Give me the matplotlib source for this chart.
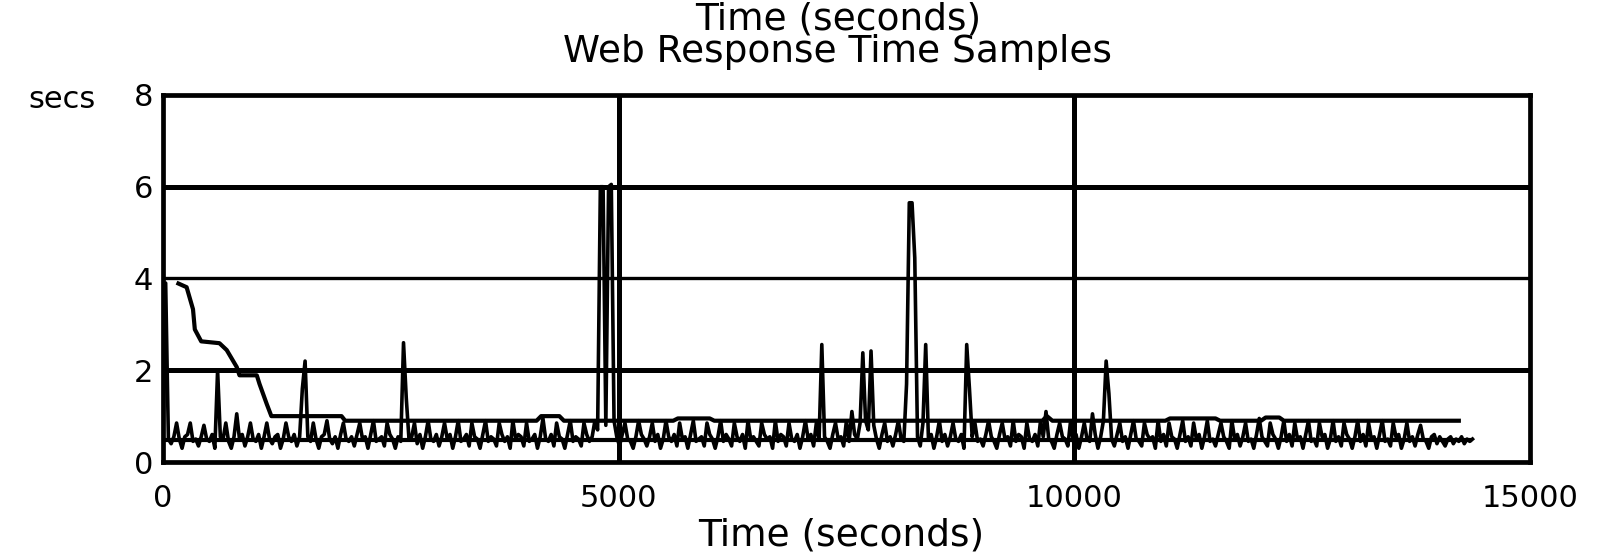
import numpy as np
import matplotlib
matplotlib.use("Agg")
import matplotlib.pyplot as plt

# raw response-time samples, one every 30 s
sample_step = 30
raw_secs = [
    0.45, 3.9, 0.5, 0.4, 0.55, 0.85, 0.5, 0.3, 0.55, 0.6, 0.85, 0.45, 0.5, 0.35, 0.55, 0.8, 0.5, 0.45, 0.6, 0.3, 2.0, 0.55, 0.5, 0.85,
    0.45, 0.3, 0.55, 1.05, 0.5, 0.6, 0.35, 0.55, 0.85, 0.5, 0.45, 0.6, 0.3, 0.55, 0.85, 0.5, 0.4, 0.55, 0.6, 0.3, 0.5, 0.85, 0.55, 0.45,
    0.6, 0.35, 0.55, 1.6, 2.2, 0.55, 0.45, 0.85, 0.5, 0.3, 0.55, 0.6, 0.9, 0.5, 0.4, 0.55, 0.3, 0.6, 0.85, 0.5, 0.45, 0.55, 0.35, 0.6,
    0.85, 0.5, 0.55, 0.3, 0.6, 0.9, 0.45, 0.5, 0.55, 0.35, 0.85, 0.6, 0.5, 0.3, 0.55, 0.45, 2.6, 1.4, 0.5, 0.55, 0.85, 0.4, 0.6, 0.3,
    0.55, 0.9, 0.5, 0.45, 0.6, 0.35, 0.55, 0.85, 0.5, 0.6, 0.3, 0.55, 0.9, 0.45, 0.5, 0.6, 0.35, 0.85, 0.55, 0.5, 0.3, 0.6, 0.9, 0.45,
    0.55, 0.5, 0.35, 0.85, 0.6, 0.45, 0.55, 0.3, 0.9, 0.5, 0.6, 0.55, 0.35, 0.85, 0.45, 0.5, 0.6, 0.3, 0.55, 0.95, 0.5, 0.45, 0.6, 0.35,
    0.85, 0.55, 0.5, 0.3, 0.6, 0.9, 0.45, 0.55, 0.5, 0.35, 0.85, 0.6, 0.45, 0.55, 0.9, 0.7, 6.0, 6.0, 0.8, 6.0, 6.05, 0.9, 0.55, 0.35,
    0.6, 0.85, 0.5, 0.45, 0.3, 0.55, 0.9, 0.6, 0.5, 0.35, 0.55, 0.85, 0.45, 0.6, 0.3, 0.5, 0.9, 0.55, 0.45, 0.6, 0.35, 0.85, 0.5, 0.55,
    0.3, 0.6, 0.9, 0.45, 0.5, 0.55, 0.35, 0.85, 0.6, 0.5, 0.3, 0.55, 0.9, 0.45, 0.6, 0.5, 0.35, 0.85, 0.55, 0.45, 0.6, 0.3, 0.9, 0.5,
    0.55, 0.45, 0.35, 0.85, 0.6, 0.5, 0.55, 0.3, 0.9, 0.45, 0.6, 0.55, 0.35, 0.85, 0.5, 0.45, 0.6, 0.3, 0.55, 0.9, 0.5, 0.6, 0.35, 0.85,
    0.5, 2.56, 0.55, 0.45, 0.3, 0.6, 0.85, 0.5, 0.55, 0.35, 0.9, 0.45, 1.1, 0.6, 0.5, 0.85, 2.38, 0.9, 0.7, 2.42, 0.8, 0.5, 0.3, 0.6,
    0.85, 0.45, 0.55, 0.35, 0.6, 0.9, 0.5, 0.45, 1.7, 5.65, 5.65, 4.45, 0.55, 0.35, 0.85, 2.56, 0.5, 0.6, 0.3, 0.55, 0.9, 0.45, 0.6, 0.35,
    0.55, 0.85, 0.5, 0.45, 0.6, 0.3, 2.56, 1.6, 0.55, 0.85, 0.45, 0.5, 0.35, 0.6, 0.9, 0.55, 0.45, 0.3, 0.6, 0.85, 0.5, 0.55, 0.35, 0.9,
    0.45, 0.6, 0.55, 0.3, 0.85, 0.5, 0.45, 0.6, 0.35, 0.9, 0.55, 1.1, 0.5, 0.45, 0.3, 0.6, 0.85, 0.55, 0.5, 0.35, 0.9, 0.45, 0.6, 0.3,
    0.55, 0.85, 0.5, 0.45, 1.05, 0.6, 0.3, 0.55, 0.9, 2.2, 1.5, 0.5, 0.35, 0.6, 0.85, 0.45, 0.55, 0.3, 0.6, 0.9, 0.5, 0.45, 0.35, 0.85,
    0.6, 0.5, 0.55, 0.3, 0.9, 0.45, 0.6, 0.35, 0.85, 0.55, 0.5, 0.3, 0.6, 0.9, 0.45, 0.55, 0.35, 0.85, 0.5, 0.6, 0.3, 0.55, 0.9, 0.45,
    0.5, 0.35, 0.6, 0.85, 0.55, 0.45, 0.3, 0.9, 0.5, 0.6, 0.35, 0.55, 0.85, 0.45, 0.5, 0.3, 0.6, 0.95, 0.55, 0.45, 0.35, 0.85, 0.6, 0.5,
    0.3, 0.55, 0.9, 0.45, 0.6, 0.35, 0.85, 0.5, 0.55, 0.3, 0.6, 0.9, 0.45, 0.5, 0.35, 0.85, 0.55, 0.6, 0.3, 0.5, 0.9, 0.45, 0.55, 0.35,
    0.85, 0.6, 0.5, 0.3, 0.55, 0.9, 0.45, 0.6, 0.35, 0.85, 0.5, 0.55, 0.3, 0.6, 0.9, 0.45, 0.5, 0.35, 0.85, 0.55, 0.6, 0.3, 0.5, 0.85,
    0.45, 0.55, 0.35, 0.6, 0.8, 0.5, 0.45, 0.3, 0.55, 0.6, 0.4, 0.55, 0.45, 0.35, 0.5, 0.55, 0.4, 0.5, 0.45, 0.55, 0.4, 0.5, 0.45, 0.5,
]
raw_time = np.arange(len(raw_secs)) * sample_step

# upper smoothed curve (read at its break points)
upper_time = [170, 260, 330, 350, 420, 620, 700, 810, 840, 1030, 1060, 1140, 1190, 1960, 2000,
              4100, 4150, 4350, 4400, 5600, 5650, 6000, 6050, 9650, 9700, 9760, 11000, 11050,
              11550, 11600, 12050, 12100, 12250, 12300, 14220]
upper_secs = [3.89, 3.81, 3.33, 2.89, 2.63, 2.59, 2.44, 2.07, 1.89, 1.89, 1.70, 1.26, 1.0, 1.0, 0.9,
              0.9, 1.0, 1.0, 0.9, 0.9, 0.95, 0.95, 0.9, 0.9, 1.0, 0.9, 0.9, 0.95,
              0.95, 0.9, 0.9, 0.97, 0.97, 0.9, 0.9]

# lower baseline curve
lower_time = [0, 14340]
lower_secs = [0.47, 0.47]

x_ticks = [0, 5000, 10000, 15000]
y_ticks = [0, 2, 4, 6, 8]

fig = plt.figure(figsize=(16.02, 5.52), dpi=100)
ax = fig.add_axes([0.1017, 0.163, 0.8533, 0.665])

# grid lines drawn by hand (different weights like the original)
for yv, lw in [(2, 3.6), (4, 2.4), (6, 3.6)]:
    ax.axhline(yv, color="black", lw=lw, zorder=1)
for xv in [5000, 10000]:
    ax.axvline(xv, color="black", lw=3.6, zorder=1)

ax.plot(lower_time, lower_secs, color="black", lw=3.0, zorder=2)
ax.plot(raw_time, raw_secs, color="black", lw=2.6, zorder=3)
ax.plot(upper_time, upper_secs, color="black", lw=3.0, zorder=3)

ax.set_xlim(0, 15000)
ax.set_ylim(0, 8)
ax.set_xticks(x_ticks)
ax.set_yticks(y_ticks)
ax.tick_params(axis="both", length=0, labelsize=22)
ax.tick_params(axis="x", pad=16)
ax.tick_params(axis="y", pad=7)
for s in ax.spines.values():
    s.set_linewidth(3.4)

fig.text(0.523, 0.965, "Time (seconds)", ha="center", va="center", fontsize=27)
fig.text(0.523, 0.905, "Web Response Time Samples", ha="center", va="center", fontsize=27)
fig.text(0.525, 0.029, "Time (seconds)", ha="center", va="center", fontsize=27)
fig.text(0.039, 0.82, "secs", ha="center", va="center", fontsize=22)

fig.savefig("out.png", dpi=100, facecolor="white")
